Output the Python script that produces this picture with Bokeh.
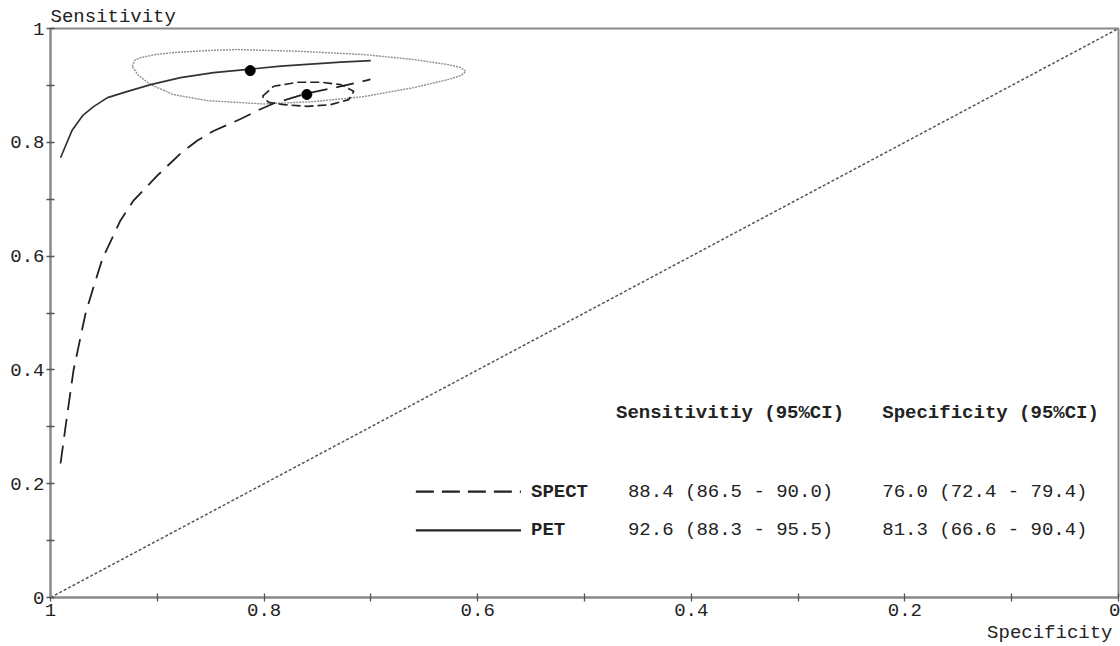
from bokeh.plotting import figure
from bokeh.models import Range1d, FixedTicker, Title, CustomJSTickFormatter
from bokeh.core.properties import value
from bokeh.embed import file_html
from bokeh.resources import INLINE

# ---- data ----
pet_curve_spec = [0.9906, 0.9797, 0.9700, 0.9597, 0.9466, 0.9316, 0.9063, 0.8782,
                  0.8472, 0.8126, 0.7844, 0.7563, 0.7282, 0.7001]
pet_curve_sens = [0.7729, 0.8213, 0.8468, 0.8627, 0.8785, 0.8873, 0.9014, 0.9137,
                  0.9225, 0.9287, 0.9340, 0.9375, 0.9410, 0.9437]

spect_curve_spec = [0.9906, 0.9860, 0.9785, 0.9672, 0.9607, 0.9513, 0.9345, 0.9223,
                    0.8998, 0.8783, 0.8624, 0.8474, 0.8221, 0.8062, 0.7912, 0.7603,
                    0.7285, 0.7004]
spect_curve_sens = [0.2355, 0.2988, 0.3989, 0.4991, 0.5395, 0.5958, 0.6626, 0.6977,
                    0.7417, 0.7803, 0.8032, 0.8199, 0.8409, 0.8559, 0.8682, 0.8858,
                    0.8981, 0.9104]

pet_ell_spec = [0.9234, 0.9213, 0.9157, 0.9016, 0.8847, 0.8529, 0.8247, 0.7685,
                0.7067, 0.6598, 0.6279, 0.6157, 0.6111, 0.6157, 0.6279, 0.6598,
                0.7067, 0.7535, 0.8004, 0.8219, 0.8529, 0.8847, 0.9063, 0.9175, 0.9234]
pet_ell_sens = [0.9331, 0.9437, 0.9489, 0.9542, 0.9577, 0.9613, 0.9630, 0.9600,
                0.9542, 0.9454, 0.9366, 0.9313, 0.9243, 0.9173, 0.9102, 0.8961,
                0.8803, 0.8715, 0.8674, 0.8697, 0.8732, 0.8838, 0.9014, 0.9173, 0.9331]

spect_ell_spec = [0.8016, 0.7910, 0.7688, 0.7470, 0.7282, 0.7160, 0.7207, 0.7376,
                  0.7594, 0.7816, 0.7957, 0.8016]
spect_ell_sens = [0.8808, 0.8984, 0.9055, 0.9055, 0.9014, 0.8896, 0.8750, 0.8662,
                  0.8632, 0.8662, 0.8702, 0.8808]

point_spec = [0.813, 0.760]   # PET, SPECT
point_sens = [0.926, 0.884]

diag_spec = [1.0, 0.0]
diag_sens = [0.0, 1.0]

y_ticks = [0, 0.2, 0.4, 0.6, 0.8, 1.0]
x_ticks = [0, 0.2, 0.4, 0.6, 0.8, 1.0]
minor = [0.1, 0.3, 0.5, 0.7, 0.9]

header = ["Sensitivitiy (95%CI)", "Specificity (95%CI)"]
names = ["SPECT", "PET"]
sens_txt = ["88.4 (86.5 - 90.0)", "92.6 (88.3 - 95.5)"]
spec_txt = ["76.0 (72.4 - 79.4)", "81.3 (66.6 - 90.4)"]

FONT = "Liberation Mono"
FS = "19px"

p = figure(width=1120, height=646, output_backend="svg", toolbar_location=None,
           x_range=Range1d(1, 0), y_range=Range1d(0, 1),
           min_border_left=50, min_border_right=2, min_border_top=28, min_border_bottom=49)
p.grid.visible = False
p.outline_line_color = "#8a8a8a"
p.outline_line_width = 2
p.background_fill_color = "white"
p.border_fill_color = "white"

for ax, ticks in ((p.xaxis[0], x_ticks), (p.yaxis[0], y_ticks)):
    ax.ticker = FixedTicker(ticks=ticks, minor_ticks=minor)
    ax.formatter = CustomJSTickFormatter(code="return (tick==0)?'0':(tick==1)?'1':tick.toFixed(1);")
    ax.axis_line_color = "#8a8a8a"
    ax.axis_line_width = 2
    ax.major_tick_line_color = "#555555"
    ax.minor_tick_line_color = "#555555"
    ax.major_tick_line_width = 1.3
    ax.minor_tick_line_width = 1.3
    ax.major_tick_in = 4
    ax.major_tick_out = 4
    ax.minor_tick_in = 4
    ax.minor_tick_out = 4
    ax.major_label_text_font = FONT
    ax.major_label_text_font_size = FS
    ax.major_label_text_color = "#222222"
    ax.major_label_standoff = 2

# diagonal
p.line(diag_spec, diag_sens, line_color="#555555", line_width=1.5, line_dash="3 2")

# ellipses
p.line(pet_ell_spec, pet_ell_sens, line_color="#8f8f8f", line_width=1.4, line_dash="2 1")
p.line(spect_ell_spec, spect_ell_sens, line_color="#222222", line_width=1.6, line_dash="9 4")

# curves
p.line(pet_curve_spec, pet_curve_sens, line_color="#333333", line_width=1.7)
p.line(spect_curve_spec, spect_curve_sens, line_color="#222222", line_width=1.8,
       line_dash="18 9", line_join="round")

p.scatter(point_spec, point_sens, size=10, color="black")

# table / legend
hy = 0.325
row_y = [0.186, 0.118]
p.text(x=[0.4705, 0.2212], y=[hy, hy], text=header, text_font=value(FONT),
       text_font_size=FS, text_font_style="bold", text_baseline="middle",
       text_align="left", text_color="#222222")
p.text(x=[0.5501, 0.5501], y=row_y, text=names, text_font=value(FONT),
       text_font_size=FS, text_font_style="bold", text_baseline="middle",
       text_align="left", text_color="#222222")
p.text(x=[0.4593, 0.4593], y=row_y, text=sens_txt, text_font=value(FONT),
       text_font_size=FS, text_baseline="middle", text_align="left", text_color="#222222")
p.text(x=[0.2212, 0.2212], y=row_y, text=spec_txt, text_font=value(FONT),
       text_font_size=FS, text_baseline="middle", text_align="left", text_color="#222222")
p.line([0.6579, 0.5595], [row_y[0], row_y[0]], line_color="#222222", line_width=2.2, line_dash="18 8")
p.line([0.6579, 0.5595], [row_y[1], row_y[1]], line_color="#222222", line_width=2.2)

# axis titles
p.add_layout(Title(text="Sensitivity", align="left", text_font=FONT, text_font_size=FS,
                   text_font_style="normal", text_color="#222222", standoff=2, offset=0), "above")
p.add_layout(Title(text="Specificity", align="right", text_font=FONT, text_font_size=FS,
                   text_font_style="normal", text_color="#222222", standoff=2, offset=6), "below")

open("out.html", "w").write(file_html(p, INLINE))
